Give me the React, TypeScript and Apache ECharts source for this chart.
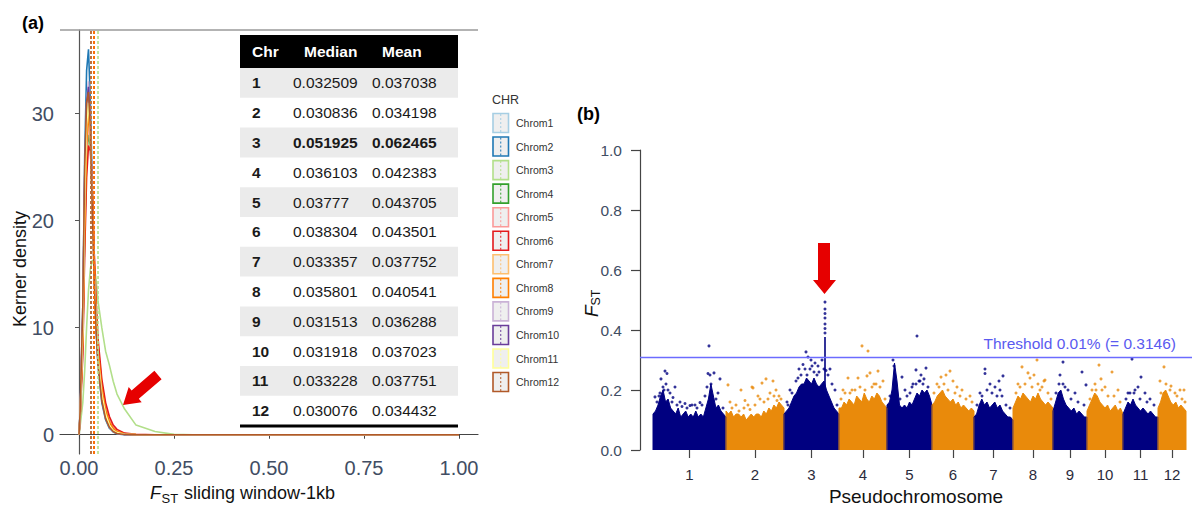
import React, { useEffect, useRef } from 'react';
import * as echarts from 'echarts';

// ---------- Panel (a): kernel density ----------
const CHROM_NAMES = ['Chrom1', 'Chrom2', 'Chrom3', 'Chrom4', 'Chrom5', 'Chrom6', 'Chrom7', 'Chrom8', 'Chrom9', 'Chrom10', 'Chrom11', 'Chrom12'];
const CHROM_COLORS = ['#A6CEE3', '#1F78B4', '#B2DF8A', '#33A02C', '#FB9A99', '#E31A1C', '#FDBF6F', '#FF7F00', '#CAB2D6', '#6A3D9A', '#FFFF99', '#B15928'];

const TABLE_HEADERS = ['Chr', 'Median', 'Mean'];
const TABLE_CHR = ['1', '2', '3', '4', '5', '6', '7', '8', '9', '10', '11', '12'];
const TABLE_MEDIAN = ['0.032509', '0.030836', '0.051925', '0.036103', '0.03777', '0.038304', '0.033357', '0.035801', '0.031513', '0.031918', '0.033228', '0.030076'];
const TABLE_MEAN = ['0.037038', '0.034198', '0.062465', '0.042383', '0.043705', '0.043501', '0.037752', '0.040541', '0.036288', '0.037023', '0.037751', '0.034432'];
const TABLE_BOLD_ROW = 2;

const DENS_X = [0, 0.003, 0.01, 0.015, 0.02, 0.025, 0.03, 0.035, 0.04, 0.045, 0.05, 0.06, 0.07, 0.08, 0.09, 0.10, 0.12, 0.15, 0.20, 0.25, 0.30, 1.00];
const D_CHR1 = [0, 2.0, 9, 20, 28, 30, 28, 22, 16, 11, 8, 4.2, 2.2, 1.1, 0.5, 0.25, 0.06, 0.01, 0, 0, 0, 0];
const D_CHR2 = [0, 2.2, 12, 26, 34, 36, 31, 23, 15, 10, 6.5, 3.0, 1.4, 0.6, 0.25, 0.08, 0, 0, 0, 0, 0, 0];
const D_CHR3 = [0, 0.8, 3, 6, 10, 13.5, 15.5, 16.3, 15.8, 14.5, 12.5, 10, 7.8, 6.5, 5, 3.8, 2.4, 0.9, 0.3, 0.03, 0, 0];
const D_CHR4 = [0, 1.8, 9, 19, 26, 28, 27, 22, 16, 11.5, 8, 4.5, 2.4, 1.2, 0.6, 0.3, 0.08, 0.01, 0, 0, 0, 0];
const D_CHR5 = [0, 1.8, 8, 18, 26, 29, 28, 23, 17, 12, 8.5, 4.8, 2.6, 1.4, 0.7, 0.35, 0.1, 0.02, 0, 0, 0, 0];
const D_CHR6 = [0, 1.6, 7.5, 17, 24, 27, 26.5, 22.5, 17, 12.5, 9, 5.2, 3.0, 1.7, 0.9, 0.5, 0.15, 0.03, 0, 0, 0, 0];
const D_CHR7 = [0, 2.0, 10, 22, 29, 31, 28, 21, 15, 10.5, 7.2, 3.8, 1.9, 0.9, 0.4, 0.2, 0.05, 0.01, 0, 0, 0, 0];
const D_CHR8 = [0, 1.8, 9, 19, 27, 30, 28, 22.5, 16.5, 11.5, 8, 4.4, 2.3, 1.2, 0.6, 0.3, 0.08, 0.01, 0, 0, 0, 0];
const D_CHR9 = [0, 2.1, 11, 24, 31, 33, 29, 21.5, 15, 10, 6.8, 3.4, 1.6, 0.7, 0.3, 0.12, 0.02, 0, 0, 0, 0, 0];
const D_CHR10 = [0, 2.1, 11, 24, 31, 32.5, 29, 22, 15, 10.2, 7, 3.5, 1.7, 0.8, 0.35, 0.15, 0.03, 0, 0, 0, 0, 0];
const D_CHR11 = [0, 2.0, 10, 22, 29, 31, 28, 21, 15, 10.5, 7.2, 3.8, 1.9, 0.9, 0.4, 0.2, 0.05, 0.01, 0, 0, 0, 0];
const D_CHR12 = [0, 2.2, 12, 25, 31, 32, 28.5, 21, 14.5, 9.8, 6.6, 3.2, 1.5, 0.7, 0.3, 0.12, 0.02, 0, 0, 0, 0, 0];
const DENSITY = [D_CHR1, D_CHR2, D_CHR3, D_CHR4, D_CHR5, D_CHR6, D_CHR7, D_CHR8, D_CHR9, D_CHR10, D_CHR11, D_CHR12];

const A_X_TICKS = [0, 0.25, 0.5, 0.75, 1.0];
const A_Y_TICKS = [0, 10, 20, 30];

// ---------- Panel (b): Manhattan plot ----------
const MAN_CHR_LEN = [73, 58, 55, 48, 45, 42, 39, 40, 34, 36, 35, 28];
const MAN_OFFSET = 13;
const MAN_X_MAX = 552;
const MAN_COLORS = ['#000080', '#E98A0B'];
const THRESHOLD = 0.3146;

// dense core upper envelope (Fst), evenly spread along each pseudochromosome
const ENV_CHR1 = [0.12, 0.13, 0.15, 0.18, 0.2, 0.16, 0.17, 0.14, 0.13, 0.12, 0.14, 0.11, 0.12, 0.13, 0.11, 0.12, 0.11, 0.13, 0.11, 0.12, 0.11, 0.14, 0.17, 0.22, 0.18, 0.14, 0.15, 0.13, 0.12, 0.11];
const ENV_CHR2 = [0.13, 0.12, 0.13, 0.11, 0.12, 0.12, 0.11, 0.12, 0.1, 0.11, 0.12, 0.11, 0.12, 0.12, 0.11, 0.13, 0.12, 0.14, 0.13, 0.15, 0.14, 0.16, 0.15, 0.14];
const ENV_CHR3 = [0.12, 0.13, 0.14, 0.16, 0.18, 0.19, 0.21, 0.22, 0.22, 0.24, 0.23, 0.22, 0.24, 0.22, 0.21, 0.22, 0.23, 0.2, 0.18, 0.16, 0.14, 0.13, 0.12];
const ENV_CHR4 = [0.14, 0.14, 0.16, 0.15, 0.17, 0.16, 0.15, 0.18, 0.17, 0.16, 0.19, 0.17, 0.16, 0.18, 0.17, 0.19, 0.18, 0.16, 0.15, 0.14];
const ENV_CHR5 = [0.15, 0.16, 0.2, 0.29, 0.23, 0.15, 0.14, 0.15, 0.14, 0.16, 0.15, 0.17, 0.19, 0.18, 0.2, 0.19, 0.2, 0.18, 0.15];
const ENV_CHR6 = [0.15, 0.16, 0.18, 0.19, 0.2, 0.18, 0.17, 0.16, 0.17, 0.15, 0.16, 0.14, 0.15, 0.14, 0.13, 0.14, 0.13];
const ENV_CHR7 = [0.11, 0.12, 0.15, 0.17, 0.15, 0.16, 0.14, 0.15, 0.16, 0.14, 0.15, 0.13, 0.12, 0.11, 0.11, 0.1];
const ENV_CHR8 = [0.14, 0.16, 0.18, 0.17, 0.19, 0.18, 0.17, 0.16, 0.18, 0.17, 0.19, 0.17, 0.16, 0.15, 0.16, 0.15, 0.14];
const ENV_CHR9 = [0.13, 0.16, 0.19, 0.2, 0.17, 0.15, 0.14, 0.13, 0.14, 0.12, 0.13, 0.12, 0.11, 0.11];
const ENV_CHR10 = [0.13, 0.15, 0.17, 0.19, 0.18, 0.16, 0.15, 0.14, 0.15, 0.13, 0.14, 0.15, 0.13, 0.14, 0.12];
const ENV_CHR11 = [0.12, 0.14, 0.16, 0.15, 0.17, 0.15, 0.14, 0.13, 0.14, 0.13, 0.12, 0.13, 0.12, 0.11, 0.11];
const ENV_CHR12 = [0.14, 0.16, 0.19, 0.2, 0.18, 0.16, 0.15, 0.16, 0.14, 0.15, 0.14, 0.13];
const ENVELOPES = [ENV_CHR1, ENV_CHR2, ENV_CHR3, ENV_CHR4, ENV_CHR5, ENV_CHR6, ENV_CHR7, ENV_CHR8, ENV_CHR9, ENV_CHR10, ENV_CHR11, ENV_CHR12];

// sparse SNP windows above the dense core: [cumulative position (Mb), Fst]
const OUT_CHR1 = [[25, 0.263], [27, 0.255], [21, 0.237], [35, 0.21], [15, 0.177], [69, 0.347], [68, 0.255], [74, 0.257], [80, 0.237], [78, 0.19], [67, 0.21], [30, 0.19], [45, 0.155], [55, 0.15], [60, 0.158], [50, 0.148], [40, 0.16], [23, 0.21], [28, 0.2],
  [17, 0.16], [19, 0.18], [24, 0.2], [26, 0.22], [32, 0.16], [37, 0.15], [42, 0.145], [47, 0.14], [52, 0.15], [57, 0.14], [62, 0.15], [65, 0.18], [71, 0.22], [76, 0.17], [83, 0.14], [20, 0.19], [70, 0.25], [33, 0.175]];
const OUT_CHR2 = [[88, 0.217], [101, 0.2], [126, 0.237], [133, 0.23], [112, 0.21], [139, 0.18], [90, 0.16], [120, 0.17], [105, 0.165], [113, 0.207], [122, 0.223], [118, 0.18], [130, 0.19], [136, 0.2],
  [92, 0.14], [96, 0.15], [99, 0.13], [104, 0.14], [108, 0.15], [115, 0.15], [124, 0.16], [128, 0.17], [134, 0.18], [141, 0.17], [137, 0.165], [110, 0.135]];
const OUT_CHR3 = [[166, 0.327], [168, 0.31], [171, 0.3], [163, 0.285], [175, 0.29], [178, 0.28], [182, 0.3], [159, 0.27], [190, 0.27], [195, 0.2], [150, 0.2], [147, 0.16], [172, 0.28], [186, 0.265], [185, 0.39], [185, 0.405], [185, 0.42], [185, 0.44], [185, 0.455], [185, 0.47], [185, 0.493],
  [148, 0.15], [152, 0.19], [156, 0.23], [161, 0.25], [165, 0.27], [170, 0.27], [174, 0.26], [179, 0.26], [184, 0.27], [188, 0.25], [192, 0.22], [197, 0.15], [167, 0.25], [177, 0.25], [158, 0.24]];
const OUT_CHR4 = [[222, 0.347], [228, 0.33], [227, 0.247], [230, 0.257], [238, 0.263], [243, 0.23], [218, 0.24], [234, 0.22], [208, 0.24], [212, 0.2], [203, 0.2],
  [201, 0.17], [205, 0.19], [210, 0.19], [215, 0.2], [220, 0.21], [225, 0.2], [232, 0.21], [236, 0.22], [240, 0.21], [245, 0.17]];
const OUT_CHR5 = [[277, 0.38], [276, 0.267], [286, 0.273], [262, 0.243], [284, 0.237], [273, 0.22], [279, 0.23], [265, 0.2], [270, 0.19], [253, 0.3], [254, 0.28], [281, 0.25],
  [250, 0.18], [256, 0.19], [260, 0.17], [267, 0.18], [272, 0.21], [276, 0.22], [280, 0.23], [283, 0.22], [288, 0.21]];
const OUT_CHR6 = [[310, 0.263], [301, 0.243], [306, 0.25], [313, 0.23], [322, 0.2], [330, 0.18], [297, 0.22], [317, 0.21],
  [294, 0.19], [299, 0.21], [304, 0.22], [308, 0.2], [315, 0.19], [320, 0.18], [326, 0.17], [332, 0.16]];
const OUT_CHR7 = [[345, 0.27], [345, 0.255], [359, 0.23], [363, 0.247], [350, 0.22], [340, 0.19], [360, 0.2], [355, 0.21],
  [337, 0.15], [342, 0.18], [347, 0.2], [352, 0.19], [357, 0.18], [362, 0.18], [366, 0.15], [370, 0.14]];
const OUT_CHR8 = [[397, 0.3], [404, 0.23], [382, 0.277], [388, 0.257], [390, 0.24], [405, 0.233], [378, 0.22], [400, 0.2], [394, 0.25],
  [376, 0.19], [380, 0.21], [385, 0.22], [392, 0.21], [398, 0.22], [402, 0.21], [408, 0.19], [411, 0.17]];
const OUT_CHR9 = [[423, 0.293], [442, 0.26], [446, 0.217], [423, 0.22], [428, 0.2], [435, 0.19], [420, 0.25],
  [416, 0.19], [419, 0.22], [425, 0.21], [431, 0.17], [438, 0.16], [444, 0.15]];
const OUT_CHR10 = [[459, 0.283], [461, 0.237], [472, 0.26], [455, 0.22], [465, 0.21], [478, 0.2], [452, 0.2],
  [450, 0.17], [456, 0.2], [462, 0.2], [468, 0.18], [474, 0.18], [480, 0.16]];
const OUT_CHR11 = [[492, 0.303], [501, 0.243], [495, 0.2], [498, 0.21], [505, 0.19], [510, 0.17], [488, 0.19],
  [486, 0.17], [490, 0.19], [494, 0.19], [500, 0.17], [507, 0.16], [514, 0.15]];
const OUT_CHR12 = [[524, 0.277], [531, 0.213], [544, 0.2], [520, 0.23], [535, 0.19], [540, 0.2],
  [521, 0.19], [526, 0.22], [530, 0.2], [537, 0.18], [542, 0.17], [545, 0.16]];
const OUTLIERS = [OUT_CHR1, OUT_CHR2, OUT_CHR3, OUT_CHR4, OUT_CHR5, OUT_CHR6, OUT_CHR7, OUT_CHR8, OUT_CHR9, OUT_CHR10, OUT_CHR11, OUT_CHR12];

// the chromosome 3 peak (solid column)
const SPIKE_POS = 185;
const SPIKE_TOP = 0.377;

const FONT = "'Liberation Sans', Arial, Helvetica, sans-serif";
const TICK_BLUE = '#414d63';

function buildOption() {
  const starts: number[] = [];
  let acc = MAN_OFFSET;
  MAN_CHR_LEN.forEach((len) => {
    starts.push(acc);
    acc += len;
  });
  const centers = starts.map((s, i) => s + MAN_CHR_LEN[i] / 2);

  const series: any[] = [];

  DENSITY.forEach((d, i) => {
    series.push({
      type: 'line',
      name: CHROM_NAMES[i],
      xAxisIndex: 0,
      yAxisIndex: 0,
      symbol: 'none',
      silent: true,
      data: DENS_X.map((x, j) => [x, d[j]]),
      lineStyle: { color: CHROM_COLORS[i], width: 1.6 },
      z: 3,
      markLine: {
        silent: true,
        symbol: ['none', 'none'],
        label: { show: false },
        lineStyle: { color: CHROM_COLORS[i], width: 1.6, type: [3, 2] },
        data: [{ xAxis: Number(TABLE_MEDIAN[i]) }],
      },
    });
  });

  ENVELOPES.forEach((env, i) => {
    const s = starts[i];
    const len = MAN_CHR_LEN[i];
    const color = MAN_COLORS[i % 2];
    const data: number[][] = [[s, 0]];
    env.forEach((v, j) => data.push([s + (j * len) / (env.length - 1), v]));
    data.push([s + len, 0]);
    series.push({
      type: 'line',
      xAxisIndex: 1,
      yAxisIndex: 1,
      symbol: 'none',
      silent: true,
      data,
      lineStyle: { color, width: 1 },
      areaStyle: { color, opacity: 1 },
      z: 2,
    });
  });

  series.push({
    type: 'line',
    xAxisIndex: 1,
    yAxisIndex: 1,
    symbol: 'none',
    silent: true,
    data: [[SPIKE_POS, 0], [SPIKE_POS, SPIKE_TOP]],
    lineStyle: { color: MAN_COLORS[0], width: 1.6 },
    z: 3,
    markLine: {
      silent: true,
      symbol: ['none', 'none'],
      label: { show: false },
      lineStyle: { color: '#6b6bff', width: 1.3, type: 'solid' },
      data: [{ yAxis: THRESHOLD }],
    },
  });

  OUTLIERS.forEach((pts, i) => {
    series.push({
      type: 'scatter',
      xAxisIndex: 1,
      yAxisIndex: 1,
      silent: true,
      symbolSize: 3,
      data: pts,
      itemStyle: { color: MAN_COLORS[i % 2] },
      z: 4,
    });
  });

  const g: any[] = [];
  g.push({ type: 'line', shape: { x1: 60, y1: 30, x2: 478, y2: 30 }, style: { stroke: '#9a9a9a', lineWidth: 1.5 }, z: 1 });
  g.push({ type: 'text', x: 22, y: 23, style: { text: '(a)', fontSize: 18, fontWeight: 'bold', fontFamily: FONT, fill: '#000', verticalAlign: 'middle' } });
  g.push({ type: 'text', x: 577, y: 114, style: { text: '(b)', fontSize: 18, fontWeight: 'bold', fontFamily: FONT, fill: '#000', verticalAlign: 'middle' } });

  const tX = 240, tW = 218, hTop = 35, hH = 33, rowH = 29.8;
  const colX = [252, 293, 372];
  const hColX = [252, 304, 382];
  g.push({ type: 'rect', shape: { x: tX, y: hTop, width: tW, height: hH }, style: { fill: '#000' }, z: 10 });
  TABLE_HEADERS.forEach((h, k) => {
    g.push({ type: 'text', x: hColX[k], y: hTop + hH / 2, z: 11, style: { text: h, fontSize: 15.5, fontWeight: 'bold', fontFamily: FONT, fill: '#fff', verticalAlign: 'middle' } });
  });
  TABLE_CHR.forEach((c, i) => {
    const top = hTop + hH + i * rowH;
    if (i % 2 === 0) {
      g.push({ type: 'rect', shape: { x: tX, y: top, width: tW, height: rowH }, style: { fill: '#ebebeb' }, z: 10 });
    }
    const cy = top + rowH / 2;
    const bold = i === TABLE_BOLD_ROW;
    g.push({ type: 'text', x: colX[0], y: cy, z: 11, style: { text: c, fontSize: 15.5, fontWeight: 'bold', fontFamily: FONT, fill: '#1a1a1a', verticalAlign: 'middle' } });
    g.push({ type: 'text', x: colX[1], y: cy, z: 11, style: { text: TABLE_MEDIAN[i], fontSize: 15.5, fontWeight: bold ? 'bold' : 'normal', fontFamily: FONT, fill: '#1a1a1a', verticalAlign: 'middle' } });
    g.push({ type: 'text', x: colX[2], y: cy, z: 11, style: { text: TABLE_MEAN[i], fontSize: 15.5, fontWeight: bold ? 'bold' : 'normal', fontFamily: FONT, fill: '#1a1a1a', verticalAlign: 'middle' } });
  });
  g.push({ type: 'rect', shape: { x: tX, y: hTop + hH + TABLE_CHR.length * rowH - 1, width: tW, height: 3 }, style: { fill: '#000' }, z: 11 });

  g.push({ type: 'text', x: 492, y: 100, style: { text: 'CHR', fontSize: 12.5, fontFamily: FONT, fill: '#333', verticalAlign: 'middle' } });
  CHROM_NAMES.forEach((n, i) => {
    const cy = 123 + i * 23.55;
    g.push({ type: 'rect', shape: { x: 493, y: cy - 9.5, width: 15.5, height: 19 }, style: { fill: '#efefef', stroke: CHROM_COLORS[i], lineWidth: 1.6 } });
    g.push({ type: 'line', shape: { x1: 500.75, y1: cy - 9, x2: 500.75, y2: cy + 9 }, style: { stroke: CHROM_COLORS[i], lineWidth: 1, lineDash: [2, 2] } });
    g.push({ type: 'text', x: 516, y: cy, style: { text: n, fontSize: 10.5, fontFamily: FONT, fill: '#333', verticalAlign: 'middle' } });
  });

  g.push({ type: 'text', x: 20, y: 269, rotation: Math.PI / 2, style: { text: 'Kerner density', fontSize: 18, fontFamily: FONT, fill: '#111', align: 'center', verticalAlign: 'middle' } });
  g.push({
    type: 'group', x: 150, y: 493, children: [
      { type: 'text', x: 0, y: 0, style: { text: 'F', fontSize: 18, fontStyle: 'italic', fontFamily: FONT, fill: '#111', verticalAlign: 'middle' } },
      { type: 'text', x: 11.5, y: 5, style: { text: 'ST', fontSize: 13, fontFamily: FONT, fill: '#111', verticalAlign: 'middle' } },
      { type: 'text', x: 34, y: 0, style: { text: 'sliding window-1kb', fontSize: 18, fontFamily: FONT, fill: '#111', verticalAlign: 'middle' } },
    ],
  });
  g.push({
    type: 'group', x: 591, y: 317, rotation: Math.PI / 2, children: [
      { type: 'text', x: 0, y: 0, style: { text: 'F', fontSize: 19, fontStyle: 'italic', fontFamily: FONT, fill: '#111', verticalAlign: 'middle' } },
      { type: 'text', x: 11.5, y: 5, style: { text: 'ST', fontSize: 12.5, fontFamily: FONT, fill: '#111', verticalAlign: 'middle' } },
    ],
  });
  g.push({ type: 'text', x: 1176, y: 343, style: { text: `Threshold 0.01% (= ${THRESHOLD})`, fontSize: 15.5, fontFamily: FONT, fill: '#5a5af0', align: 'right', verticalAlign: 'middle' } });
  g.push({ type: 'text', x: 916, y: 496, style: { text: 'Pseudochromosome', fontSize: 19, fontFamily: FONT, fill: '#111', align: 'center', verticalAlign: 'middle' } });

  g.push({ type: 'polygon', z: 20, shape: { points: [[123, 405], [141.7, 402.2], [138.8, 398.8], [161.6, 379.2], [154.4, 370.8], [131.6, 390.4], [128.7, 387]] }, style: { fill: '#e60000' } });
  g.push({ type: 'polygon', z: 20, shape: { points: [[818, 243], [830, 243], [830, 280], [836, 280], [824.5, 294], [813, 280], [818, 280]] }, style: { fill: '#e60000' } });

  return {
    animation: false,
    backgroundColor: '#fff',
    textStyle: { fontFamily: FONT },
    grid: [
      { left: 60, top: 30, width: 418, height: 424, containLabel: false, outerBoundsMode: 'none' },
      { left: 640, top: 150, width: 552, height: 300, containLabel: false, outerBoundsMode: 'none' },
    ],
    xAxis: [
      {
        type: 'value', gridIndex: 0, min: -0.05, max: 1.05,
        axisLine: { show: true, lineStyle: { color: '#444', width: 1.2 } },
        axisTick: { show: true, customValues: A_X_TICKS, length: 4, lineStyle: { color: '#444' } },
        axisLabel: { customValues: A_X_TICKS, formatter: (v: number) => v.toFixed(2), fontSize: 20, color: TICK_BLUE, margin: 4 },
        splitLine: { show: false },
      },
      {
        type: 'value', gridIndex: 1, min: 0, max: MAN_X_MAX,
        axisLine: { show: false },
        axisTick: { show: true, customValues: centers, length: 8, lineStyle: { color: '#444', width: 1.2 } },
        axisLabel: {
          customValues: centers,
          formatter: (v: number) => {
            const i = centers.findIndex((c) => Math.abs(c - v) < 1e-6);
            return i >= 0 ? String(i + 1) : '';
          },
          fontSize: 15, color: '#2b2b3b', margin: 17, lineHeight: 15,
        },
        splitLine: { show: false },
      },
    ],
    yAxis: [
      {
        type: 'value', gridIndex: 0, min: -1.8, max: 37.8,
        axisLine: { show: true, lineStyle: { color: '#555', width: 1.2 } },
        axisTick: { show: true, customValues: A_Y_TICKS, length: 4, lineStyle: { color: '#555' } },
        axisLabel: { customValues: A_Y_TICKS, fontSize: 20, color: TICK_BLUE, margin: 6 },
        splitLine: { show: false },
      },
      {
        type: 'value', gridIndex: 1, min: 0, max: 1, interval: 0.2,
        axisLine: { show: true, lineStyle: { color: '#444', width: 1.2 } },
        axisTick: { show: true, length: 9, lineStyle: { color: '#444', width: 1.2 } },
        axisLabel: { formatter: (v: number) => v.toFixed(1), fontSize: 15.5, color: TICK_BLUE, margin: 18 },
        splitLine: { show: false },
      },
    ],
    series,
    graphic: g,
  };
}

export default function App() {
  const ref = useRef<HTMLDivElement>(null);
  useEffect(() => {
    document.body.style.margin = '0';
    if (!ref.current) return;
    const chart = echarts.init(ref.current, undefined, { renderer: 'svg' });
    chart.setOption(buildOption() as any);
    return () => chart.dispose();
  }, []);
  return <div ref={ref} style={{ position: 'fixed', left: 0, top: 0, width: 1192, height: 506, background: '#fff' }} />;
}
